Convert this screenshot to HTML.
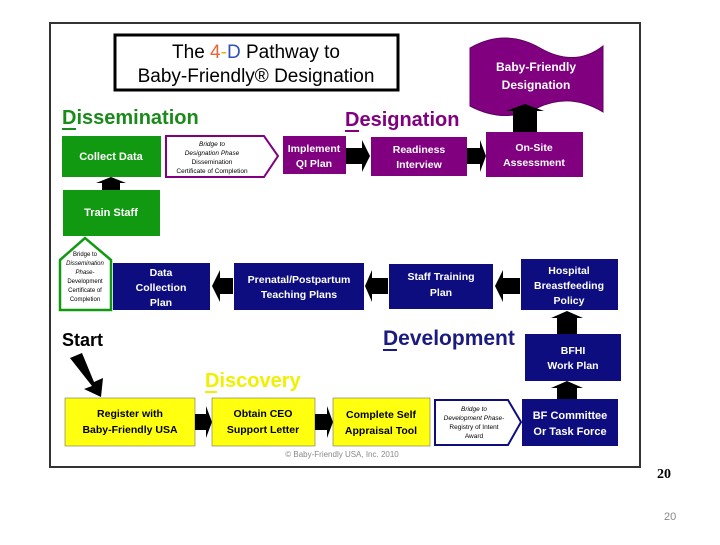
<!DOCTYPE html>
<html><head><meta charset="utf-8"><style>
html,body{margin:0;padding:0;background:#fff;}
svg text{font-family:"Liberation Sans",sans-serif;font-weight:bold;}
</style></head><body>
<svg width="720" height="540" viewBox="0 0 720 540" xmlns="http://www.w3.org/2000/svg">
<rect x="50" y="23" width="590" height="444" fill="#fff" stroke="#333" stroke-width="2"/>
<!-- title -->
<rect x="115" y="35" width="283" height="55" fill="#fff" stroke="#000" stroke-width="3"/>
<text x="256" y="58" font-size="19" text-anchor="middle" font-weight="normal" style="font-weight:normal">The <tspan fill="#e8643a">4</tspan><tspan fill="#e0b020">-</tspan><tspan fill="#3050c0">D</tspan> Pathway to</text>
<text x="256" y="82" font-size="19" text-anchor="middle" style="font-weight:normal">Baby-Friendly® Designation</text>
<!-- banner -->
<path d="M470 48 Q505 28 540 48 T603 46 L603 112 Q570 92 537 108 T470 106 Z" fill="#800080" stroke="#600060"/>
<text x="536" y="71" font-size="12" fill="#fff" text-anchor="middle">Baby-Friendly</text>
<text x="536" y="89" font-size="12" fill="#fff" text-anchor="middle">Designation</text>
<!-- phase labels -->
<text x="62" y="124" font-size="20" fill="#1a8a1a">Dissemination</text>
<rect x="62" y="128" width="14" height="2" fill="#1a8a1a"/>
<text x="345" y="126" font-size="20" fill="#800080">Designation</text>
<rect x="345" y="130" width="14" height="2" fill="#800080"/>
<text x="62" y="346" font-size="18" fill="#000">Start</text>
<text x="383" y="345" font-size="21" fill="#1a1a80">Development</text>
<rect x="383" y="349" width="14" height="2" fill="#1a1a80"/>
<text x="205" y="387" font-size="20" fill="#f0f000">Discovery</text>
<rect x="205" y="391" width="12" height="2" fill="#f0f000"/>
<!-- green -->
<rect x="62" y="136" width="99" height="41" fill="#119911"/>
<text x="111" y="160" font-size="11" fill="#fff" text-anchor="middle">Collect Data</text>
<rect x="63" y="190" width="97" height="46" fill="#119911"/>
<text x="111" y="216" font-size="11" fill="#fff" text-anchor="middle">Train Staff</text>
<path d="M102 190 L102 183 L96 183 L111 177 L126 183 L120 183 L120 190 Z" fill="#000"/>
<path d="M60 260 L85 238 L111 260 L111 310 L60 310 Z" fill="#fff" stroke="#119911" stroke-width="2.5"/>
<g font-size="6" text-anchor="middle" style="font-weight:normal" fill="#000">
<text x="85" y="256" style="font-weight:normal">Bridge to</text>
<text x="85" y="265" font-style="italic" style="font-weight:normal">Dissemination</text>
<text x="85" y="274" font-style="italic" style="font-weight:normal">Phase-</text>
<text x="85" y="283" style="font-weight:normal">Development</text>
<text x="85" y="292" style="font-weight:normal">Certificate of</text>
<text x="85" y="301" style="font-weight:normal">Completion</text>
</g>
<!-- bridge purple -->
<path d="M166 136 L264 136 L278 156 L264 177 L166 177 Z" fill="#fff" stroke="#800080" stroke-width="2"/>
<g font-size="6.5" text-anchor="middle" fill="#000">
<text x="212" y="146" font-style="italic" style="font-weight:normal">Bridge to</text>
<text x="212" y="155" font-style="italic" style="font-weight:normal">Designation Phase</text>
<text x="212" y="164" style="font-weight:normal">Dissemination</text>
<text x="212" y="173" style="font-weight:normal">Certificate of Completion</text>
</g>
<!-- purple boxes -->
<rect x="283" y="136" width="63" height="38" fill="#800080"/>
<text x="314" y="152" font-size="10.5" fill="#fff" text-anchor="middle">Implement</text>
<text x="314" y="167" font-size="10.5" fill="#fff" text-anchor="middle">QI Plan</text>
<path d="M346 148 L362 148 L362 140 L370 156 L362 172 L362 164 L346 164 Z" fill="#000"/>
<rect x="371" y="137" width="96" height="39" fill="#800080"/>
<text x="419" y="153" font-size="10.5" fill="#fff" text-anchor="middle">Readiness</text>
<text x="419" y="168" font-size="10.5" fill="#fff" text-anchor="middle">Interview</text>
<path d="M467 148 L480 148 L480 140 L486 156 L480 172 L480 164 L467 164 Z" fill="#000"/>
<rect x="486" y="132" width="97" height="45" fill="#800080"/>
<text x="534" y="151" font-size="10.5" fill="#fff" text-anchor="middle">On-Site</text>
<text x="534" y="166" font-size="10.5" fill="#fff" text-anchor="middle">Assessment</text>
<path d="M513 132 L513 111 L506 111 L525 104 L544 111 L537 111 L537 132 Z" fill="#000"/>
<!-- navy row -->
<rect x="113" y="263" width="97" height="47" fill="#0d0d80"/>
<text x="161" y="276" font-size="10.5" fill="#fff" text-anchor="middle">Data</text>
<text x="161" y="291" font-size="10.5" fill="#fff" text-anchor="middle">Collection</text>
<text x="161" y="306" font-size="10.5" fill="#fff" text-anchor="middle">Plan</text>
<path d="M233 278 L220 278 L220 270 L212 286 L220 302 L220 294 L233 294 Z" fill="#000"/>
<rect x="234" y="263" width="130" height="47" fill="#0d0d80"/>
<text x="299" y="283" font-size="10.5" fill="#fff" text-anchor="middle">Prenatal/Postpartum</text>
<text x="299" y="298" font-size="10.5" fill="#fff" text-anchor="middle">Teaching Plans</text>
<path d="M388 278 L372 278 L372 270 L365 286 L372 302 L372 294 L388 294 Z" fill="#000"/>
<rect x="389" y="264" width="104" height="45" fill="#0d0d80"/>
<text x="441" y="280" font-size="10.5" fill="#fff" text-anchor="middle">Staff Training</text>
<text x="441" y="296" font-size="10.5" fill="#fff" text-anchor="middle">Plan</text>
<path d="M520 278 L503 278 L503 270 L495 286 L503 302 L503 294 L520 294 Z" fill="#000"/>
<rect x="521" y="259" width="97" height="51" fill="#0d0d80"/>
<text x="569" y="274" font-size="10.5" fill="#fff" text-anchor="middle">Hospital</text>
<text x="569" y="289" font-size="10.5" fill="#fff" text-anchor="middle">Breastfeeding</text>
<text x="569" y="304" font-size="10.5" fill="#fff" text-anchor="middle">Policy</text>
<path d="M577 334 L577 318 L583 318 L567 311 L551 318 L557 318 L557 334 Z" fill="#000"/>
<rect x="525" y="334" width="96" height="47" fill="#0d0d80"/>
<text x="573" y="354" font-size="10.5" fill="#fff" text-anchor="middle">BFHI</text>
<text x="573" y="369" font-size="10.5" fill="#fff" text-anchor="middle">Work Plan</text>
<path d="M577 399 L577 388 L583 388 L567 381 L551 388 L557 388 L557 399 Z" fill="#000"/>
<rect x="522" y="399" width="96" height="47" fill="#0d0d80"/>
<text x="570" y="419" font-size="11" fill="#fff" text-anchor="middle">BF Committee</text>
<text x="570" y="435" font-size="11" fill="#fff" text-anchor="middle">Or Task Force</text>
<!-- bridge navy -->
<path d="M435 400 L508 400 L521 422 L508 445 L435 445 Z" fill="#fff" stroke="#0d0d80" stroke-width="2"/>
<g font-size="6.5" text-anchor="middle" fill="#000">
<text x="474" y="411" font-style="italic" style="font-weight:normal">Bridge to</text>
<text x="474" y="420" font-style="italic" style="font-weight:normal">Development Phase-</text>
<text x="474" y="429" style="font-weight:normal">Registry of Intent</text>
<text x="474" y="438" style="font-weight:normal">Award</text>
</g>
<!-- yellow -->
<rect x="65" y="398" width="130" height="48" fill="#ffff10" stroke="#555" stroke-width="0.5"/>
<text x="130" y="417" font-size="10.5" fill="#000" text-anchor="middle">Register with</text>
<text x="130" y="433" font-size="10.5" fill="#000" text-anchor="middle">Baby-Friendly USA</text>
<path d="M195 414 L206 414 L206 406 L212 422 L206 438 L206 430 L195 430 Z" fill="#000"/>
<rect x="212" y="398" width="103" height="48" fill="#ffff10" stroke="#555" stroke-width="0.5"/>
<text x="263" y="417" font-size="10.5" fill="#000" text-anchor="middle">Obtain CEO</text>
<text x="263" y="433" font-size="10.5" fill="#000" text-anchor="middle">Support Letter</text>
<path d="M315 414 L327 414 L327 406 L333 422 L327 438 L327 430 L315 430 Z" fill="#000"/>
<rect x="333" y="398" width="97" height="48" fill="#ffff10" stroke="#555" stroke-width="0.5"/>
<text x="381" y="418" font-size="10.5" fill="#000" text-anchor="middle">Complete Self</text>
<text x="381" y="434" font-size="10.5" fill="#000" text-anchor="middle">Appraisal Tool</text>
<!-- start arrow -->
<path d="M70 358 L82 353 L94 382 L103 378 L101 397 L84 389 L92 386 Z" fill="#000"/>
<text x="342" y="457" font-size="8" fill="#888" text-anchor="middle" style="font-weight:normal">© Baby-Friendly USA, Inc. 2010</text>
<text x="657" y="478" font-size="14" fill="#000" style="font-family:'Liberation Serif',serif;font-weight:bold">20</text>
<text x="664" y="520" font-size="11" fill="#888" style="font-weight:normal">20</text>
</svg>
</body></html>
